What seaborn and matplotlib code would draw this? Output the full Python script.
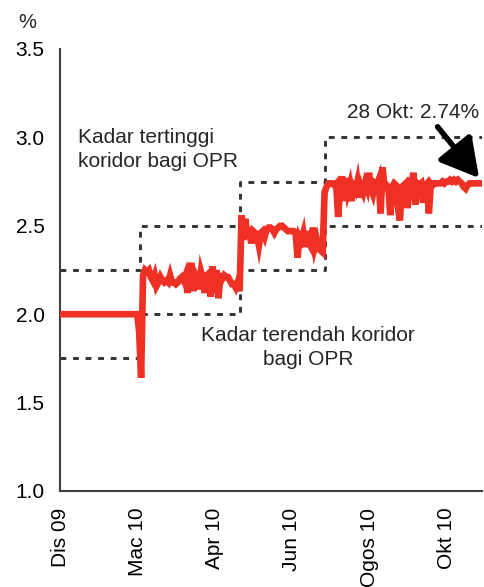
import matplotlib
matplotlib.use("Agg")
import matplotlib.pyplot as plt
import seaborn as sns
import numpy as np
import pandas as pd

# ---------------- data ----------------
tick_labels = ["Dis 09", "Mac 10", "Apr 10", "Jun 10", "Ogos 10", "Okt 10"]
tick_index = [0, 40, 80, 120, 160, 200]

# overnight interbank rate (daily observations), %
opr_seg_a = [2.00, 2.00, 2.00, 2.00, 2.00, 2.00, 2.00, 2.00, 2.00, 2.00,
             2.00, 2.00, 2.00, 2.00, 2.00, 2.00, 2.00, 2.00, 2.00, 2.00,
             2.00, 2.00, 2.00, 2.00, 2.00, 2.00, 2.00, 2.00, 2.00, 2.00,
             2.00, 2.00, 2.00, 2.00, 2.00, 2.00, 2.00, 2.00, 2.00, 2.00,
             2.00]
opr_seg_b = [1.90, 1.64, 2.22, 2.25, 2.24, 2.25, 2.21, 2.19, 2.22, 2.16,
             2.18, 2.21, 2.19, 2.18, 2.19, 2.18, 2.22, 2.18, 2.18, 2.17,
             2.18, 2.20, 2.21, 2.19, 2.22, 2.12, 2.24, 2.29, 2.13, 2.23,
             2.21, 2.14, 2.24, 2.20, 2.12, 2.22, 2.23, 2.10, 2.27, 2.12,
             2.25, 2.09, 2.21, 2.20, 2.22, 2.21, 2.21, 2.19, 2.17, 2.17,
             2.15, 2.18, 2.13]
opr_seg_c = [2.56, 2.42, 2.54, 2.43, 2.49, 2.40, 2.47, 2.46, 2.45, 2.39,
             2.46, 2.47, 2.44, 2.48, 2.49, 2.49, 2.48, 2.46, 2.48, 2.49,
             2.50, 2.50, 2.49, 2.48, 2.47, 2.47, 2.47, 2.47, 2.46, 2.32,
             2.44, 2.42, 2.46, 2.38, 2.47, 2.40, 2.38, 2.49, 2.38, 2.42,
             2.37, 2.36, 2.35]
opr_seg_d = [2.69, 2.72, 2.74, 2.74, 2.74, 2.73, 2.74, 2.55, 2.71, 2.78,
             2.64, 2.77, 2.69, 2.73, 2.64, 2.72, 2.70, 2.75, 2.66, 2.72,
             2.69, 2.74, 2.71, 2.80, 2.71, 2.68, 2.74, 2.73, 2.76, 2.57,
             2.83, 2.72, 2.73, 2.72, 2.56, 2.72, 2.74, 2.73, 2.60, 2.53,
             2.72, 2.73, 2.74, 2.60, 2.74, 2.73, 2.80, 2.62, 2.74, 2.73,
             2.74, 2.63, 2.73, 2.74, 2.57, 2.74, 2.73, 2.74, 2.74, 2.74,
             2.74, 2.75, 2.74, 2.75, 2.75, 2.76, 2.75, 2.76, 2.75, 2.76,
             2.75, 2.74, 2.72, 2.71, 2.73, 2.74, 2.74, 2.74, 2.74, 2.74,
             2.74, 2.74]
opr = opr_seg_a + opr_seg_b + opr_seg_c + opr_seg_d

# OPR corridor (change points as observation index)
corridor_idx = [0, 41.5, 93.3, 137.0, 218.5]
corridor_upper = [2.25, 2.50, 2.75, 3.00, 3.00]
corridor_lower = [1.75, 2.00, 2.25, 2.50, 2.50]

last_label = "28 Okt: 2.74%"
last_value = 2.74

# ---------------- plot ----------------
sns.set_style("white")
plt.rcParams["font.family"] = ["Liberation Sans", "DejaVu Sans"]

fig = plt.figure(figsize=(4.84, 5.87), dpi=100)
ax = fig.add_axes([60 / 484, 96 / 587, 422 / 484, 442 / 587])

df = pd.DataFrame({"idx": np.arange(len(opr)), "opr": opr})
cor = pd.DataFrame({"idx": corridor_idx, "up": corridor_upper, "lo": corridor_lower})

dash_kw = dict(color="#333333", linewidth=2.1, dashes=(2.0, 2.3),
               drawstyle="steps-post")
for col in ["up", "lo"]:
    ax.plot(cor["idx"], cor[col], **dash_kw)

sns.lineplot(data=df, x="idx", y="opr", ax=ax, color="#EE3124",
             linewidth=4.8, solid_joinstyle="miter", zorder=3)

ax.set_xlim(0, 218.5)
ax.set_ylim(1.0, 3.5)
ax.set_yticks([1.0, 1.5, 2.0, 2.5, 3.0, 3.5])
ax.set_yticklabels(["1.0", "1.5", "2.0", "2.5", "3.0", "3.5"])
ax.set_xticks(tick_index)
ax.set_xticklabels(tick_labels, rotation=90, va="top")
ax.set_xlabel("")
ax.set_ylabel("")

for s in ["top", "right"]:
    ax.spines[s].set_visible(False)
for s in ["left", "bottom"]:
    ax.spines[s].set_color("#404040")
    ax.spines[s].set_linewidth(1.5)
ax.tick_params(axis="both", direction="out", length=5, width=1.2,
               color="#404040", labelsize=15, labelcolor="black")
ax.tick_params(axis="y", pad=6)
ax.tick_params(axis="x", pad=7)

ax.text(-0.078, 1.06, "%", transform=ax.transAxes, fontsize=14.5,
        ha="center", va="center")

ax.text(9.3, 2.93, "Kadar tertinggi\nkoridor bagi OPR", fontsize=15,
        ha="left", va="center", linespacing=1.35)
ax.text(128.5, 1.81, "Kadar terendah koridor\nbagi OPR", fontsize=15,
        ha="center", va="center", linespacing=1.35, multialignment="center")

ax.text(183, 3.14, last_label, fontsize=15, ha="center", va="center")
ax.annotate("", xy=(217.0, last_value + 0.03), xytext=(195.5, 3.06),
            arrowprops=dict(arrowstyle="-|>,head_length=0.9,head_width=0.5",
                            color="black", lw=4, mutation_scale=26,
                            shrinkA=0, shrinkB=0))

fig.savefig("out.png", dpi=100)
